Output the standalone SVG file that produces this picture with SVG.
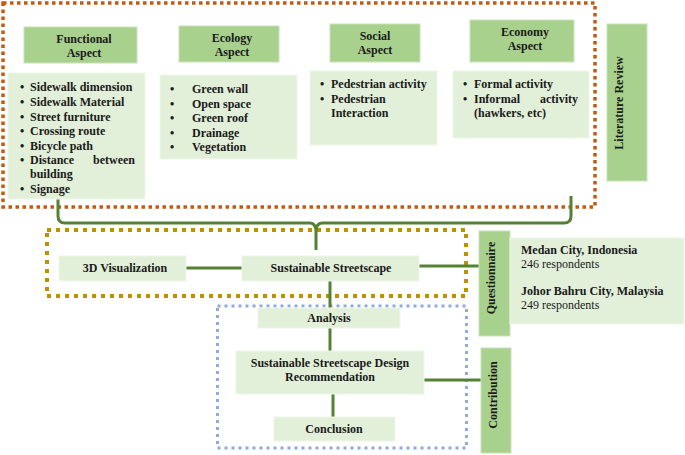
<svg xmlns="http://www.w3.org/2000/svg" width="685" height="455" viewBox="0 0 685 455">
<style>
.hdr{fill:#a9d18e;stroke:#c9e2b8;stroke-width:1}
.lst{fill:#e2efd9;stroke:#eef6e9;stroke-width:1}
text{font-size:12px;fill:#1a1a1a}
.b{font-weight:bold}
.c{text-anchor:middle}
.con{fill:none;stroke:#548235;stroke-width:3}
.frame{fill:none}
</style>
<rect width="685" height="455" fill="#ffffff"/>
<g id="frames">
<rect class="frame" x="3" y="3" width="592" height="204" stroke="#c65911" stroke-width="3.5" stroke-dasharray="3.5 3.5"/>
<rect class="frame" x="47" y="230" width="419" height="66" stroke="#bf9000" stroke-width="4" stroke-dasharray="4 5"/>
<rect class="frame" x="217.5" y="306" width="249" height="142" stroke="#8faadc" stroke-width="3" stroke-dasharray="3 4"/>
</g>
<g id="connectors">
<path class="con" d="M58,197 V216 Q58,223 65,223 H310 Q316,223 316,232 V250 M316,232 Q316,223 322,223 H564 Q571,223 571,216 V196"/>
<line class="con" x1="186" y1="268" x2="242" y2="268"/>
<line class="con" x1="419" y1="266" x2="479" y2="266"/>
<line class="con" x1="330" y1="281" x2="330" y2="308"/>
<line class="con" x1="330" y1="328" x2="330" y2="351"/>
<line class="con" x1="424" y1="380" x2="481" y2="380"/>
<line class="con" x1="333" y1="394" x2="333" y2="417"/>
</g>
<g font-family="Liberation Serif, Times New Roman, serif">
<g id="functional-header">
<rect class="hdr" x="24" y="27" width="113" height="36"/>
<text class="b c" x="84" y="43">Functional</text>
<text class="b c" x="84" y="57">Aspect</text>
</g>
<g id="functional-list">
<rect class="lst" x="8" y="73" width="137" height="126"/>
<g class="b">
<text x="20" y="91">•</text><text x="30" y="91">Sidewalk dimension</text>
<text x="20" y="106">•</text><text x="30" y="106">Sidewalk Material</text>
<text x="20" y="121">•</text><text x="30" y="121">Street furniture</text>
<text x="20" y="135">•</text><text x="30" y="135">Crossing route</text>
<text x="20" y="150">•</text><text x="30" y="150">Bicycle path</text>
<text x="20" y="164">•</text><text x="30" y="164">Distance</text><text x="135" y="164" text-anchor="end">between</text>
<text x="30" y="178">building</text>
<text x="20" y="193">•</text><text x="30" y="193">Signage</text>
</g>
</g>
<g id="ecology-header">
<rect class="hdr" x="179" y="26" width="100" height="36"/>
<text class="b c" x="232" y="42">Ecology</text>
<text class="b c" x="232" y="56">Aspect</text>
</g>
<g id="ecology-list">
<rect class="lst" x="160" y="75" width="137" height="84"/>
<g class="b">
<text x="170" y="93">•</text><text x="192" y="93">Green wall</text>
<text x="170" y="108">•</text><text x="192" y="108">Open space</text>
<text x="170" y="122">•</text><text x="192" y="122">Green roof</text>
<text x="170" y="137">•</text><text x="192" y="137">Drainage</text>
<text x="170" y="151">•</text><text x="192" y="151">Vegetation</text>
</g>
</g>
<g id="social-header">
<rect class="hdr" x="330" y="24" width="90" height="38"/>
<text class="b c" x="375" y="40">Social</text>
<text class="b c" x="375" y="54">Aspect</text>
</g>
<g id="social-list">
<rect class="lst" x="310" y="71" width="127" height="74"/>
<g class="b">
<text x="320" y="88">•</text><text x="331" y="88">Pedestrian activity</text>
<text x="320" y="103">•</text><text x="331" y="103">Pedestrian</text>
<text x="331" y="117">Interaction</text>
</g>
</g>
<g id="economy-header">
<rect class="hdr" x="470" y="20" width="104" height="42"/>
<text class="b c" x="525" y="36">Economy</text>
<text class="b c" x="525" y="50">Aspect</text>
</g>
<g id="economy-list">
<rect class="lst" x="453" y="71" width="136" height="67"/>
<g class="b">
<text x="463" y="88">•</text><text x="474" y="88">Formal activity</text>
<text x="463" y="103">•</text><text x="474" y="103">Informal</text><text x="578" y="103" text-anchor="end">activity</text>
<text x="474" y="117">(hawkers, etc)</text>
</g>
</g>
<g id="literature-review">
<rect class="hdr" x="607" y="24" width="40" height="157"/>
<text class="b c" transform="translate(623,103) rotate(-90)">Literature Review</text>
</g>
<g id="visualization">
<rect class="lst" x="59" y="256" width="127" height="25"/>
<text class="b c" x="125" y="272">3D Visualization</text>
</g>
<g id="sustainable-streetscape">
<rect class="lst" x="242" y="256" width="177" height="25"/>
<text class="b c" x="331" y="272">Sustainable Streetscape</text>
</g>
<g id="questionnaire">
<rect class="hdr" x="479" y="231" width="31" height="105"/>
<text class="b c" transform="translate(495,278) rotate(-90)">Questionnaire</text>
</g>
<g id="respondents">
<rect class="lst" x="510" y="238" width="174" height="86"/>
<text class="b" x="521" y="254">Medan City, Indonesia</text>
<text x="521" y="268">246 respondents</text>
<text class="b" x="521" y="295">Johor Bahru City, Malaysia</text>
<text x="521" y="309">249 respondents</text>
</g>
<g id="analysis">
<rect class="lst" x="258" y="308" width="142" height="20"/>
<text class="b c" x="329" y="322">Analysis</text>
</g>
<g id="recommendation">
<rect class="lst" x="236" y="351" width="188" height="43"/>
<text class="b c" x="330" y="367">Sustainable Streetscape Design</text>
<text class="b c" x="330" y="381">Recommendation</text>
</g>
<g id="contribution">
<rect class="hdr" x="481" y="348" width="30" height="105"/>
<text class="b c" transform="translate(497,395) rotate(-90)">Contribution</text>
</g>
<g id="conclusion">
<rect class="lst" x="274" y="417" width="121" height="24"/>
<text class="b c" x="334" y="433">Conclusion</text>
</g>
</g>
</svg>
